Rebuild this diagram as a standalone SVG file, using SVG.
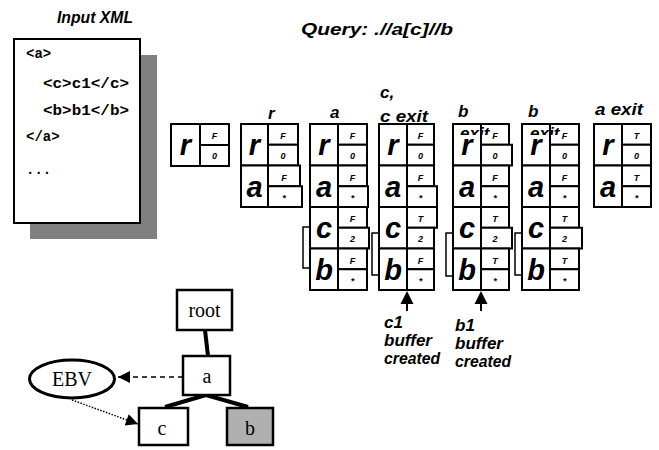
<svg xmlns="http://www.w3.org/2000/svg" width="659" height="450" viewBox="0 0 659 450">
<style>
.box{fill:#fff;stroke:#000;stroke-width:2}
.big{font-family:"Liberation Sans",Arial,sans-serif;font-weight:bold;font-style:italic;font-size:29px;text-anchor:middle}
.sm{font-family:"Liberation Sans",Arial,sans-serif;font-weight:bold;font-style:italic;font-size:9px;text-anchor:middle}
.lbl{font-family:"Liberation Sans",Arial,sans-serif;font-weight:bold;font-style:italic;font-size:17px}
.mono{font-family:"Liberation Mono","Courier New",monospace;font-weight:bold;font-size:14px}
.serif{font-family:"Liberation Serif","Times New Roman",serif;font-size:20px;text-anchor:middle}
.tbox{fill:#fff;stroke:#000;stroke-width:2.5}
.brk{fill:none;stroke:#000;stroke-width:1.5}
</style>
<defs>
<marker id="ah" viewBox="0 0 10 10" refX="10" refY="5" markerWidth="15" markerHeight="12" markerUnits="userSpaceOnUse" orient="auto">
<path d="M0,0 L10,5 L0,10 z" fill="#000"/>
</marker>
<clipPath id="exitclip"><rect x="440" y="125" width="150" height="10"/></clipPath>
</defs>

<g id="input-xml">
<text class="lbl" x="57" y="23" font-size="14" textLength="76" lengthAdjust="spacingAndGlyphs">Input XML</text>
<rect x="30" y="55" width="127" height="184" fill="#808080"/>
<rect x="14" y="39" width="126" height="184" class="box"/>
<text class="mono" x="26" y="58">&lt;a&gt;</text>
<text class="mono" x="43" y="88" textLength="86" lengthAdjust="spacingAndGlyphs">&lt;c&gt;c1&lt;/c&gt;</text>
<text class="mono" x="43" y="115" textLength="86" lengthAdjust="spacingAndGlyphs">&lt;b&gt;b1&lt;/b&gt;</text>
<text class="mono" x="26" y="141">&lt;/a&gt;</text>
<text class="mono" x="26" y="174">...</text>
</g>

<g id="query">
<text class="lbl" x="301" y="35" font-size="18" textLength="152" lengthAdjust="spacingAndGlyphs">Query: .//a[c]//b</text>
</g>

<g id="stack1">
<rect class="box" x="171" y="124" width="29" height="42"/>
<rect class="box" x="200" y="124" width="29" height="21"/>
<rect class="box" x="200" y="145" width="29" height="21"/>
<text class="big" x="185.5" y="155">r</text>
<text class="sm" x="214.5" y="139">F</text>
<text class="sm" x="214.5" y="159">0</text>
</g>

<g id="stack2">
<text class="lbl" x="268" y="119">r</text>
<rect class="box" x="241" y="124" width="27" height="41.5"/>
<rect class="box" x="268" y="124" width="30" height="20.75"/>
<rect class="box" x="268" y="144.75" width="30" height="20.75"/>
<rect class="box" x="241" y="165.5" width="27" height="41.5"/>
<rect class="box" x="268" y="165.5" width="32" height="20.75"/>
<rect class="box" x="268" y="186.25" width="34" height="20.75"/>
<text class="big" x="254.5" y="155">r</text>
<text class="big" x="254.5" y="196.5">a</text>
<text class="sm" x="283" y="139">F</text>
<text class="sm" x="283" y="159.25">0</text>
<text class="sm" x="284" y="180.5">F</text>
<text class="sm" x="284" y="200.75">*</text>
</g>

<g id="stack3">
<text class="lbl" x="330" y="118">a</text>
<path class="brk" d="M310,227 H303 V268 H310"/>
<rect class="box" x="310" y="124" width="28" height="41.5"/>
<rect class="box" x="338" y="124" width="29" height="20.75"/>
<rect class="box" x="338" y="144.75" width="29" height="20.75"/>
<rect class="box" x="310" y="165.5" width="28" height="41.5"/>
<rect class="box" x="338" y="165.5" width="29" height="20.75"/>
<rect class="box" x="338" y="186.25" width="30" height="20.75"/>
<rect class="box" x="310" y="207" width="28" height="41.5"/>
<rect class="box" x="338" y="207" width="29" height="20.75"/>
<rect class="box" x="338" y="227.75" width="31" height="20.75"/>
<rect class="box" x="310" y="248.5" width="28" height="41.5"/>
<rect class="box" x="338" y="248.5" width="29" height="20.75"/>
<rect class="box" x="338" y="269.25" width="29" height="20.75"/>
<text class="big" x="324" y="155">r</text>
<text class="big" x="324" y="196.5">a</text>
<text class="big" x="324" y="238">c</text>
<text class="big" x="324" y="279.5">b</text>
<text class="sm" x="352.5" y="139">F</text>
<text class="sm" x="352.5" y="159.25">0</text>
<text class="sm" x="352.5" y="180.5">F</text>
<text class="sm" x="352.5" y="200.75">*</text>
<text class="sm" x="352.5" y="222">F</text>
<text class="sm" x="352.5" y="242.25">2</text>
<text class="sm" x="352.5" y="263.5">F</text>
<text class="sm" x="352.5" y="283.75">*</text>
</g>

<g id="stack4">
<text class="lbl" x="380" y="98">c,</text>
<text class="lbl" x="380" y="122" textLength="48" lengthAdjust="spacingAndGlyphs">c exit</text>
<path class="brk" d="M379,233 H372 V275 H379"/>
<rect class="box" x="379" y="124" width="28" height="41.5"/>
<rect class="box" x="407" y="124" width="27" height="20.75"/>
<rect class="box" x="407" y="144.75" width="27" height="20.75"/>
<rect class="box" x="379" y="165.5" width="28" height="41.5"/>
<rect class="box" x="407" y="165.5" width="27" height="20.75"/>
<rect class="box" x="407" y="186.25" width="30" height="20.75"/>
<rect class="box" x="379" y="207" width="28" height="41.5"/>
<rect class="box" x="407" y="207" width="30" height="20.75"/>
<rect class="box" x="407" y="227.75" width="27" height="20.75"/>
<rect class="box" x="379" y="248.5" width="28" height="41.5"/>
<rect class="box" x="407" y="248.5" width="27" height="20.75"/>
<rect class="box" x="407" y="269.25" width="27" height="20.75"/>
<text class="big" x="393" y="155">r</text>
<text class="big" x="393" y="196.5">a</text>
<text class="big" x="393" y="238">c</text>
<text class="big" x="393" y="279.5">b</text>
<text class="sm" x="420.5" y="139">F</text>
<text class="sm" x="420.5" y="159.25">0</text>
<text class="sm" x="420.5" y="180.5">F</text>
<text class="sm" x="420.5" y="200.75">*</text>
<text class="sm" x="420.5" y="222">T</text>
<text class="sm" x="420.5" y="242.25">2</text>
<text class="sm" x="420.5" y="263.5">F</text>
<text class="sm" x="420.5" y="283.75">*</text>
</g>

<g id="stack5">
<text class="lbl" x="458" y="117">b</text>
<path class="brk" d="M453,233 H446 V276 H453"/>
<rect class="box" x="453" y="124" width="28" height="41.5"/>
<rect class="box" x="481" y="124" width="28" height="20.75"/>
<rect class="box" x="481" y="144.75" width="31" height="20.75"/>
<rect class="box" x="453" y="165.5" width="28" height="41.5"/>
<rect class="box" x="481" y="165.5" width="28" height="20.75"/>
<rect class="box" x="481" y="186.25" width="28" height="20.75"/>
<rect class="box" x="453" y="207" width="28" height="41.5"/>
<rect class="box" x="481" y="207" width="28" height="20.75"/>
<rect class="box" x="481" y="227.75" width="31" height="20.75"/>
<rect class="box" x="453" y="248.5" width="28" height="41.5"/>
<rect class="box" x="481" y="248.5" width="28" height="20.75"/>
<rect class="box" x="481" y="269.25" width="28" height="20.75"/>
<text class="lbl" x="460" y="139" clip-path="url(#exitclip)">exit</text>
<text class="big" x="467" y="155">r</text>
<text class="big" x="467" y="196.5">a</text>
<text class="big" x="467" y="238">c</text>
<text class="big" x="467" y="279.5">b</text>
<text class="sm" x="495" y="139">F</text>
<text class="sm" x="495" y="159.25">0</text>
<text class="sm" x="495" y="180.5">F</text>
<text class="sm" x="495" y="200.75">*</text>
<text class="sm" x="495" y="222">T</text>
<text class="sm" x="495" y="242.25">2</text>
<text class="sm" x="495" y="263.5">T</text>
<text class="sm" x="495" y="283.75">*</text>
</g>

<g id="stack6">
<text class="lbl" x="528" y="117">b</text>
<path class="brk" d="M522,233 H515 V275 H522"/>
<rect class="box" x="522" y="124" width="28" height="41.5"/>
<rect class="box" x="550" y="124" width="29" height="20.75"/>
<rect class="box" x="550" y="144.75" width="29" height="20.75"/>
<rect class="box" x="522" y="165.5" width="28" height="41.5"/>
<rect class="box" x="550" y="165.5" width="29" height="20.75"/>
<rect class="box" x="550" y="186.25" width="29" height="20.75"/>
<rect class="box" x="522" y="207" width="28" height="41.5"/>
<rect class="box" x="550" y="207" width="29" height="20.75"/>
<rect class="box" x="550" y="227.75" width="32" height="20.75"/>
<rect class="box" x="522" y="248.5" width="28" height="41.5"/>
<rect class="box" x="550" y="248.5" width="29" height="20.75"/>
<rect class="box" x="550" y="269.25" width="29" height="20.75"/>
<text class="lbl" x="530" y="139" clip-path="url(#exitclip)">exit</text>
<text class="big" x="536" y="155">r</text>
<text class="big" x="536" y="196.5">a</text>
<text class="big" x="536" y="238">c</text>
<text class="big" x="536" y="279.5">b</text>
<text class="sm" x="564.5" y="139">F</text>
<text class="sm" x="564.5" y="159.25">0</text>
<text class="sm" x="564.5" y="180.5">F</text>
<text class="sm" x="564.5" y="200.75">*</text>
<text class="sm" x="564.5" y="222">T</text>
<text class="sm" x="564.5" y="242.25">2</text>
<text class="sm" x="564.5" y="263.5">T</text>
<text class="sm" x="564.5" y="283.75">*</text>
</g>

<g id="stack7">
<text class="lbl" x="595" y="115" textLength="48" lengthAdjust="spacingAndGlyphs">a exit</text>
<rect class="box" x="594" y="124" width="28" height="41.5"/>
<rect class="box" x="622" y="124" width="29" height="20.75"/>
<rect class="box" x="622" y="144.75" width="29" height="20.75"/>
<rect class="box" x="594" y="165.5" width="28" height="41.5"/>
<rect class="box" x="622" y="165.5" width="29" height="20.75"/>
<rect class="box" x="622" y="186.25" width="29" height="20.75"/>
<text class="big" x="608" y="155">r</text>
<text class="big" x="608" y="196.5">a</text>
<text class="sm" x="636.5" y="139">T</text>
<text class="sm" x="636.5" y="159.25">0</text>
<text class="sm" x="636.5" y="180.5">T</text>
<text class="sm" x="636.5" y="200.75">*</text>
</g>

<g id="note-c1">
<path d="M407,291 L413.5,304 L400.5,304 z" fill="#000"/>
<line x1="407" y1="303" x2="407" y2="311" stroke="#000" stroke-width="2"/>
<text class="lbl" x="384" y="328" font-size="14">c1</text>
<text class="lbl" x="384" y="346" font-size="14" textLength="48" lengthAdjust="spacingAndGlyphs">buffer</text>
<text class="lbl" x="384" y="364" font-size="14" textLength="56" lengthAdjust="spacingAndGlyphs">created</text>
</g>

<g id="note-b1">
<path d="M481,291 L487.5,304 L474.5,304 z" fill="#000"/>
<line x1="481" y1="303" x2="481" y2="311" stroke="#000" stroke-width="2"/>
<text class="lbl" x="455" y="331" font-size="14">b1</text>
<text class="lbl" x="455" y="349" font-size="14" textLength="48" lengthAdjust="spacingAndGlyphs">buffer</text>
<text class="lbl" x="455" y="367" font-size="14" textLength="56" lengthAdjust="spacingAndGlyphs">created</text>
</g>

<g id="tree-edges">
<line x1="205" y1="330" x2="208" y2="356" stroke="#000" stroke-width="4"/>
<line x1="206" y1="395" x2="165" y2="407" stroke="#000" stroke-width="4"/>
<line x1="206" y1="395" x2="248" y2="407" stroke="#000" stroke-width="4"/>
<line x1="183" y1="377" x2="118" y2="377" stroke="#000" stroke-width="1.5" stroke-dasharray="5,4" marker-end="url(#ah)"/>
<line x1="72" y1="400" x2="138" y2="424" stroke="#000" stroke-width="1.5" stroke-dasharray="1.5,1.5" marker-end="url(#ah)"/>
</g>

<g id="node-root">
<rect class="tbox" x="177" y="290" width="55" height="40"/>
<text class="serif" x="204.5" y="317">root</text>
</g>
<g id="node-a">
<rect class="tbox" x="183" y="356" width="47" height="39"/>
<text class="serif" x="207" y="383">a</text>
</g>
<g id="node-ebv">
<ellipse cx="72" cy="379" rx="42.5" ry="19" fill="#fff" stroke="#000" stroke-width="3"/>
<text class="serif" x="72" y="386">EBV</text>
</g>
<g id="node-c">
<rect class="tbox" x="139" y="408" width="49" height="37"/>
<text class="serif" x="162" y="435">c</text>
</g>
<g id="node-b">
<rect x="227" y="408" width="46" height="37" fill="#b0b0b0" stroke="#000" stroke-width="2.5"/>
<text class="serif" x="250" y="435">b</text>
</g>
</svg>
